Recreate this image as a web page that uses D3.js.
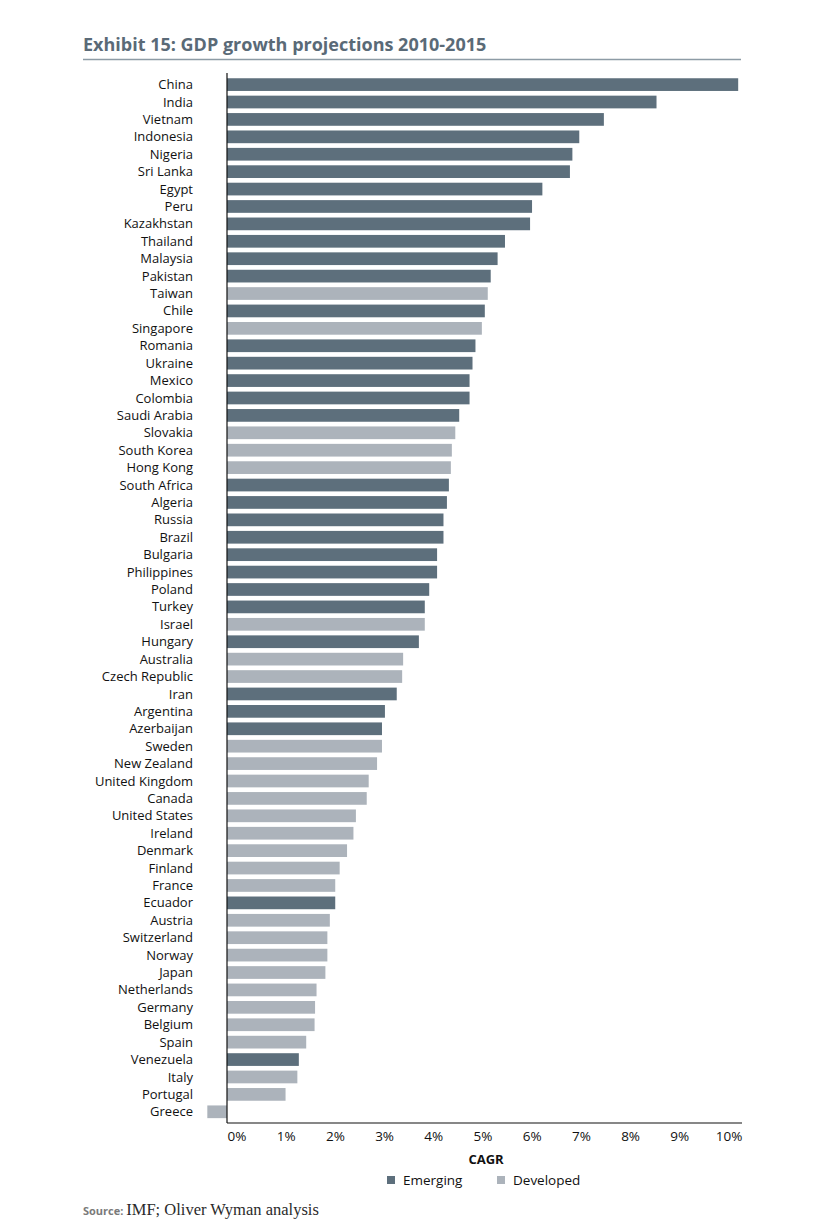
<!DOCTYPE html>
<html><head><meta charset="utf-8">
<script src="https://cdn.jsdelivr.net/npm/d3@7"></script>
<style>body{margin:0;background:#fff}</style>
</head><body>
<script>
const countries = ["China","India","Vietnam","Indonesia","Nigeria","Sri Lanka","Egypt","Peru","Kazakhstan","Thailand","Malaysia","Pakistan","Taiwan","Chile","Singapore","Romania","Ukraine","Mexico","Colombia","Saudi Arabia","Slovakia","South Korea","Hong Kong","South Africa","Algeria","Russia","Brazil","Bulgaria","Philippines","Poland","Turkey","Israel","Hungary","Australia","Czech Republic","Iran","Argentina","Azerbaijan","Sweden","New Zealand","United Kingdom","Canada","United States","Ireland","Denmark","Finland","France","Ecuador","Austria","Switzerland","Norway","Japan","Netherlands","Germany","Belgium","Spain","Venezuela","Italy","Portugal","Greece"];
const cagr = [10.39,8.73,7.66,7.16,7.02,6.97,6.41,6.20,6.16,5.65,5.50,5.36,5.30,5.24,5.18,5.05,4.99,4.93,4.93,4.72,4.64,4.57,4.55,4.51,4.47,4.40,4.40,4.27,4.27,4.11,4.02,4.02,3.90,3.58,3.56,3.45,3.21,3.15,3.15,3.05,2.88,2.84,2.62,2.57,2.44,2.29,2.20,2.20,2.09,2.04,2.04,2.00,1.82,1.79,1.78,1.61,1.46,1.43,1.19,-0.40];
const group = ["E","E","E","E","E","E","E","E","E","E","E","E","D","E","D","E","E","E","E","E","D","D","D","E","E","E","E","E","E","E","E","D","E","D","D","E","E","E","D","D","D","D","D","D","D","D","D","E","D","D","D","D","D","D","D","D","E","D","D","D"];
const tickValues = [0,1,2,3,4,5,6,7,8,9,10];
const tickLabels = ["0%","1%","2%","3%","4%","5%","6%","7%","8%","9%","10%"];
const groupNames = ["Emerging","Developed"];
const groupKeys = ["E","D"];
const colors = {E:"#5d6f7c", D:"#acb3bb"};

const W = 820, H = 1227;
const svg = d3.select("body").append("svg").attr("width",W).attr("height",H)
  .style("font-family","'Open Sans', 'Noto Sans', sans-serif");

// Title
svg.append("text").attr("x",83).attr("y",51)
  .attr("font-size",18).attr("font-weight","bold").attr("fill","#5a6a77")
  .text("Exhibit 15: GDP growth projections 2010-2015");
svg.append("line").attr("x1",83).attr("x2",741).attr("y1",59.5).attr("y2",59.5)
  .attr("stroke","#8d9ba5").attr("stroke-width",1.3);

const x = d3.scaleLinear().domain([0,10]).range([227,719]);
const y = d3.scaleBand().domain(countries).range([75.9,1120.5]).paddingInner(0.27).paddingOuter(0.135);

const data = countries.map((c,i)=>({c, v:cagr[i], g:group[i]}));

svg.append("g").selectAll("rect").data(data).join("rect")
  .attr("x",d=>x(Math.min(0,d.v)))
  .attr("width",d=>Math.abs(x(d.v)-x(0)))
  .attr("y",d=>y(d.c))
  .attr("height",y.bandwidth())
  .attr("fill",d=>colors[d.g]);

// category labels
svg.append("g").selectAll("text").data(data).join("text")
  .attr("x",193).attr("y",d=>y(d.c)+y.bandwidth()/2)
  .attr("dy","0.35em").attr("text-anchor","end")
  .attr("font-size",13).attr("fill","#111").text(d=>d.c);

// axes lines
const axisBottomY = 1123;
svg.append("line").attr("x1",x(0)).attr("x2",x(0)).attr("y1",73).attr("y2",axisBottomY)
  .attr("stroke","#111").attr("stroke-width",1.2);
svg.append("line").attr("x1",x(0)).attr("x2",742).attr("y1",axisBottomY).attr("y2",axisBottomY)
  .attr("stroke","#111").attr("stroke-width",1.2);

// tick labels
svg.append("g").selectAll("text").data(tickValues).join("text")
  .attr("x",(d,i)=>x(d)+10).attr("y",1141)
  .attr("text-anchor","middle").attr("font-size",13.5).attr("fill","#111")
  .text((d,i)=>tickLabels[i]);

svg.append("text").attr("x",486).attr("y",1164).attr("text-anchor","middle")
  .attr("font-size",13).attr("font-weight","bold").attr("fill","#111").text("CAGR");

// legend
const legX = [387, 497];
const leg = svg.append("g").selectAll("g").data(groupKeys).join("g")
  .attr("transform",(d,i)=>`translate(${legX[i]},1180)`);
leg.append("rect").attr("x",0).attr("y",-4).attr("width",8).attr("height",8).attr("fill",d=>colors[d]);
leg.append("text").attr("x",16).attr("y",0).attr("dy","0.35em").attr("font-size",13.5).attr("fill","#111")
  .text((d,i)=>groupNames[i]);

// source
const src = svg.append("text").attr("x",83).attr("y",1215);
src.append("tspan").attr("font-size",11).attr("font-weight","bold").attr("fill","#7a7a7a").text("Source: ");
src.append("tspan").attr("font-size",16.5).attr("font-family","'Liberation Serif', serif").attr("fill","#2a2a2a").text("IMF; Oliver Wyman analysis");
</script>
</body></html>
